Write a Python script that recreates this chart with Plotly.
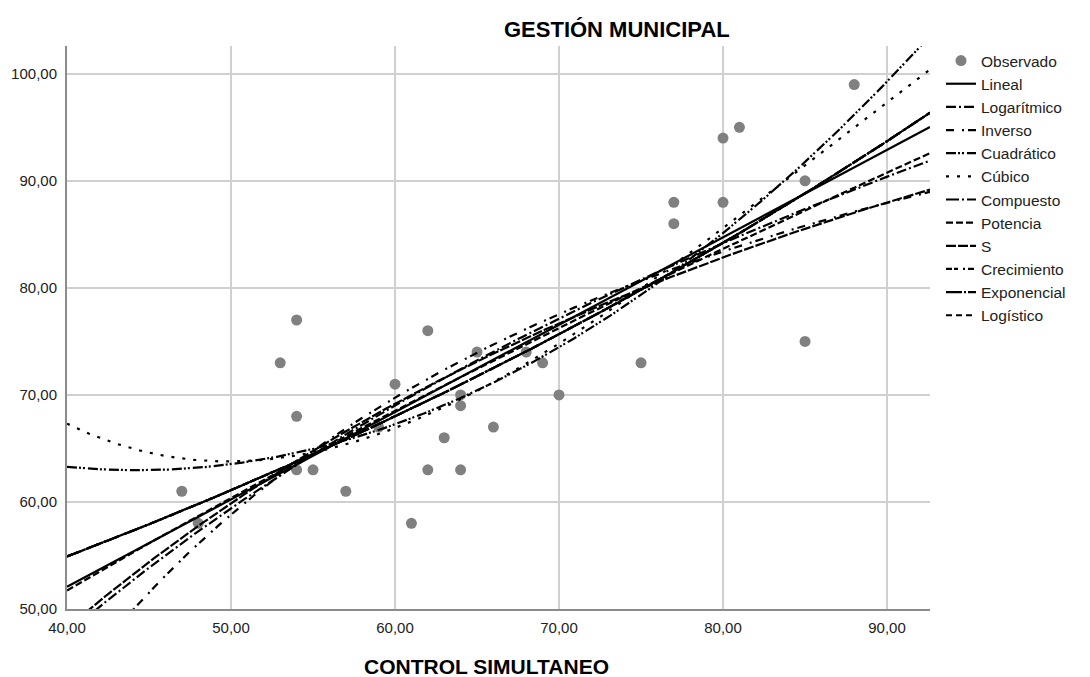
import numpy as np
import plotly.graph_objects as go

# Observed data (CONTROL SIMULTANEO vs GESTIÓN MUNICIPAL)
control = [47, 48, 53, 54, 54, 54, 55, 57, 59, 60, 61, 62, 62, 63, 64, 64, 64, 65, 66, 68,
           69, 70, 75, 77, 77, 80, 80, 81, 85, 85, 88]
gestion = [61, 58, 73, 77, 68, 63, 63, 61, 67, 71, 58, 76, 63, 66, 70, 69, 63, 74, 67, 74,
           73, 70, 73, 88, 86, 94, 88, 95, 90, 75, 99]

x_ticks = [40, 50, 60, 70, 80, 90]
x_tick_labels = ["40,00", "50,00", "60,00", "70,00", "80,00", "90,00"]
y_ticks = [50, 60, 70, 80, 90, 100]
y_tick_labels = ["50,00", "60,00", "70,00", "80,00", "90,00", "100,00"]

model_names = ["Lineal", "Logarítmico", "Inverso", "Cuadrático", "Cúbico", "Compuesto",
               "Potencia", "S", "Crecimiento", "Exponencial", "Logístico"]
model_dashes = ["solid", "10px,3px,2px,3px", "8px,8px,2px,4px", "10px,2px,2px,2px,2px,3px",
                "3px,8px", "13px,3px,2px,3px", "7px,3px", "10px,2px",
                "6px,2px,4px,5px,2px,3px", "16px,2px,2px,2px", "6px,4px"]

X_RANGE = [40, 92.62]
Y_RANGE = [50, 102.6]

x = np.array(control, float)
y = np.array(gestion, float)
xs = np.linspace(X_RANGE[0], X_RANGE[1], 400)


def fit_curve(name):
    if name == "Lineal":
        return np.polyval(np.polyfit(x, y, 1), xs)
    if name == "Logarítmico":
        c = np.polyfit(np.log(x), y, 1)
        return np.polyval(c, np.log(xs))
    if name == "Inverso":
        c = np.polyfit(1 / x, y, 1)
        return np.polyval(c, 1 / xs)
    if name == "Cuadrático":
        return np.polyval(np.polyfit(x, y, 2), xs)
    if name == "Cúbico":
        return np.polyval(np.polyfit(x, y, 3), xs)
    if name in ("Compuesto", "Crecimiento", "Exponencial", "Logístico"):
        c = np.polyfit(x, np.log(y), 1)
        return np.exp(np.polyval(c, xs))
    if name == "Potencia":
        c = np.polyfit(np.log(x), np.log(y), 1)
        return np.exp(np.polyval(c, np.log(xs)))
    if name == "S":
        c = np.polyfit(1 / x, np.log(y), 1)
        return np.exp(np.polyval(c, 1 / xs))


fig = go.Figure()
fig.add_trace(go.Scatter(x=control, y=gestion, mode="markers", name="Observado",
                         marker=dict(color="#808080", size=11), legendgroup="obs"))
for nm, ds in zip(model_names, model_dashes):
    fig.add_trace(go.Scatter(x=xs, y=fit_curve(nm), mode="lines", name=nm,
                             line=dict(color="black", width=2.2, dash=ds), legendgroup=nm))

L, R, T, B = 67, 160, 46, 68
W = 1090 - L - R
H = 677 - T - B


def px_x(p):
    return (p - L) / W


def px_y(p):
    return (677 - B - p) / H


font_family = "Liberation Sans, Arial, sans-serif"
fig.update_layout(
    width=1090, height=677,
    margin=dict(l=L, r=R, t=T, b=B, autoexpand=False),
    paper_bgcolor="white", plot_bgcolor="white",
    font=dict(family=font_family, size=15, color="#222222"),
    showlegend=True,
    legend=dict(x=px_x(941), y=px_y(44), xanchor="left", yanchor="top",
                font=dict(size=15.5, color="#222222"), tracegroupgap=0,
                bgcolor="rgba(0,0,0,0)", itemwidth=30),
    xaxis=dict(range=X_RANGE, tickvals=x_ticks, ticktext=x_tick_labels, showgrid=True,
               gridcolor="#d0d0d0", gridwidth=1.5, showline=True, linecolor="#8c8c8c",
               linewidth=2, ticks="", zeroline=False, tickfont=dict(size=15),
               automargin=False, ticklabelstandoff=4),
    yaxis=dict(range=Y_RANGE, tickvals=y_ticks, ticktext=y_tick_labels, showgrid=True,
               gridcolor="#d0d0d0", gridwidth=1.5, showline=True, linecolor="#8c8c8c",
               linewidth=2, ticks="", zeroline=False, tickfont=dict(size=15),
               automargin=False, ticklabelstandoff=5),
)
fig.add_annotation(text="<b>GESTIÓN MUNICIPAL</b>", x=px_x(617), y=px_y(30), xref="paper",
                   yref="paper", showarrow=False, font=dict(size=22, color="black"),
                   xanchor="center", yanchor="middle")
fig.add_annotation(text="<b>CONTROL SIMULTANEO</b>", x=px_x(486), y=px_y(666), xref="paper",
                   yref="paper", showarrow=False, font=dict(size=21, color="black"),
                   xanchor="center", yanchor="middle")

fig.write_html("out.html", config={"displayModeBar": False},
               post_script="document.body.style.margin='0';")
